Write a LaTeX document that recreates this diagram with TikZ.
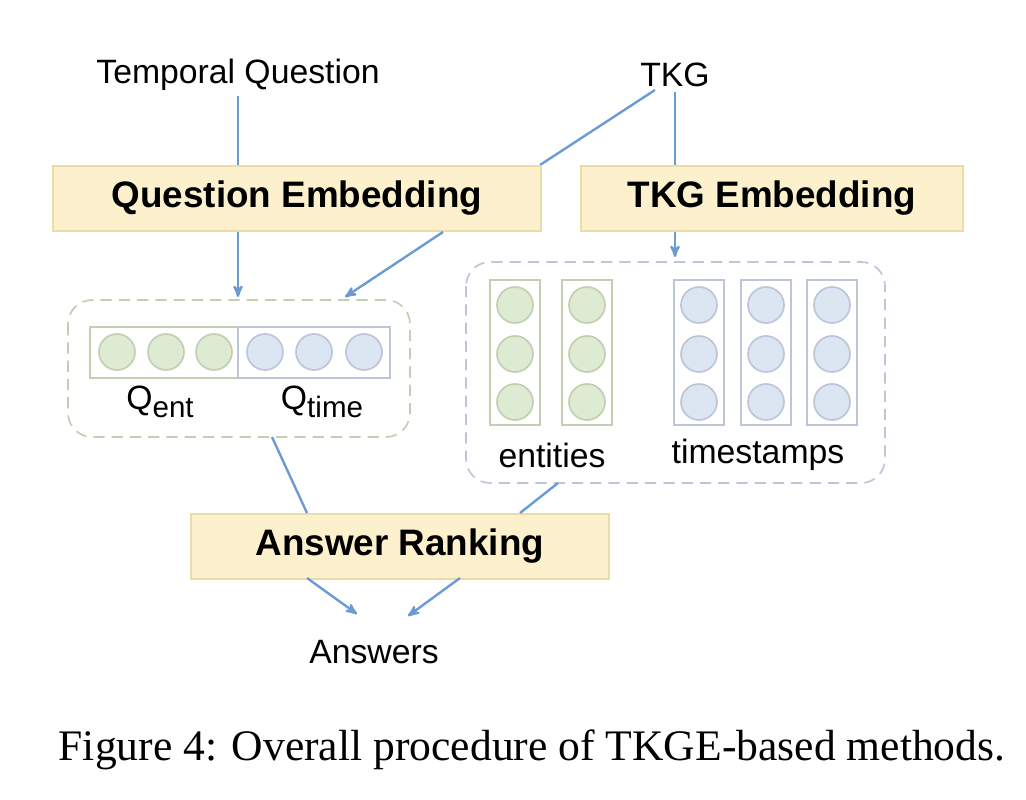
\documentclass[tikz,border=0pt]{standalone}
\usepackage{fontspec}
\setmainfont{Liberation Sans}
\newfontfamily\capfont{Liberation Serif}
\usetikzlibrary{arrows,positioning}
\definecolor{boxfill}{HTML}{FCF1CC}
\definecolor{boxline}{HTML}{EADCA6}
\definecolor{linkblue}{HTML}{6A9BD4}
\definecolor{entfill}{HTML}{DDEBD3}
\definecolor{entline}{HTML}{C3CFB2}
\definecolor{timefill}{HTML}{DCE6F3}
\definecolor{timeline}{HTML}{BDC6D8}
\newcommand{\lowsub}[1]{\raisebox{-0.45ex}{\fontsize{21}{24}\selectfont #1}}
\begin{document}
\begin{tikzpicture}[x=0.025cm,y=-0.025cm,>=stealth',
    stage/.style={draw=boxline,fill=boxfill,line width=1.2pt,font=\fontsize{26.2}{30}\selectfont\bfseries,anchor=north west,inner sep=0pt},
    link/.style={draw=linkblue,line width=1.7pt},
    lab/.style={font=\fontsize{24}{28}\selectfont},
    ent/.style={circle,draw=entline,fill=entfill,line width=1.2pt,minimum size=0.9cm,inner sep=0pt},
    tim/.style={circle,draw=timeline,fill=timefill,line width=1.2pt,minimum size=0.9cm,inner sep=0pt},
    group/.style={rounded corners=0.6cm,dash pattern=on 8pt off 5pt,line width=1.2pt}]
  \useasboundingbox (0,0) rectangle (1026,800);
  % inputs
  \node[lab] (question) at (238,75) {Temporal Question};
  \node[lab] (tkg) at (675,75) {TKG};
  % lines running behind the boxes
  \coordinate (tkgbend) at (540,165);
  \coordinate (tkgout) at (443,232);
  \path[link] (655,90) -- (tkgbend);
  % stages
  \node[stage,minimum width=12.2cm,minimum height=1.625cm] (qemb) at (52,165) {Question Embedding};
  \node[stage,minimum width=9.55cm,minimum height=1.625cm] (kemb) at (580,165) {TKG Embedding};
  \node[stage,minimum width=10.45cm,minimum height=1.625cm] (rank) at (190,513) {Answer Ranking};
  % question vector
  \draw[group,draw=entline] (68,300) rectangle (410,437);
  \draw[entline,line width=1.2pt] (90,327) rectangle (238,378);
  \draw[timeline,line width=1.2pt] (238,327) rectangle (390,378);
  \foreach \x in {117,166,214} \node[ent] at (\x,352) {};
  \foreach \x in {265,314,364} \node[tim] at (\x,352) {};
  \node[lab] (qent) at (160,402) {Q\lowsub{ent}};
  \node[lab] (qtime) at (322,402) {Q\lowsub{time}};
  \coordinate (qin) at (238,297);
  \coordinate (qin2) at (345,297);
  \coordinate (qout) at (272,437);
  % graph embeddings
  \draw[group,draw=timeline] (466,262) rectangle (885,483);
  \foreach \x in {515,587} {
    \draw[entline,line width=1.2pt] (\x-25,280) rectangle (\x+25,425);
    \foreach \y in {305,354,402} \node[ent] at (\x,\y) {};
  }
  \foreach \x in {699,766,832} {
    \draw[timeline,line width=1.2pt] (\x-25,280) rectangle (\x+25,425);
    \foreach \y in {305,354,402} \node[tim] at (\x,\y) {};
  }
  \node[lab] (entities) at (552,455) {entities};
  \node[lab] (stamps) at (758,455) {timestamps};
  \coordinate (kin) at (675,257);
  \coordinate (kout) at (558,483);
  % output
  \node[lab] (answers) at (374,652) {Answers};
  \node[font=\capfont\fontsize{31}{34}\selectfont] (caption) at (532,750) {Figure 4: Overall procedure of TKGE-based methods.};
  % connectors
  \draw[link] (question) -- (question |- qemb.north);
  \draw[link] (tkg) -- (tkg |- kemb.north);
  \draw[link,->] (tkgout) -- (qin2);
  \draw[link,->] (qemb.south -| question) -- (qin);
  \draw[link,->] (tkg |- kemb.south) -- (kin);
  \draw[link] (qout) -- (307,513);
  \draw[link] (kout) -- (520,513);
  \draw[link,->] (307,578) -- (357,614);
  \draw[link,->] (460,578) -- (408,616);
\end{tikzpicture}
\end{document}
